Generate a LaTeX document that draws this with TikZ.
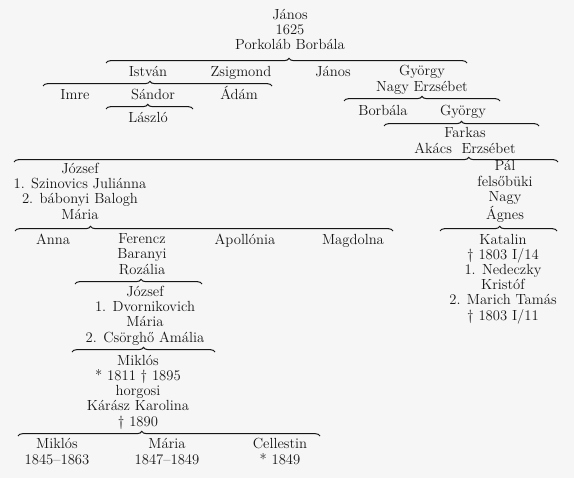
\documentclass[tikz,border=0pt]{standalone}
\usepackage{tikz}
\usetikzlibrary{decorations.pathreplacing}
\definecolor{paper}{RGB}{246,246,246}
\definecolor{ink}{RGB}{22,22,22}
\tikzset{
    person/.style={
        inner sep=0pt,align=center,anchor=base,text=ink,
        font=\fontsize{11}{11.4}\selectfont
    },
    kin/.style={
        draw=ink,line width=.75pt,decorate,
        decoration={brace,amplitude=3.5pt,aspect=#1}
    },
    kin/.default=0.5
}

\begin{document}
\begin{tikzpicture}[x=0.75pt,y=-0.75pt]

\fill[paper] (0,0) rectangle (574,478);
\useasboundingbox (0,0) rectangle (574,478);

% root (base = last line)
\node[person] (janos) at (290,50) {János\\1625\\Porkoláb Borbála};
\coordinate (b1l) at (106,63);
\coordinate (b1r) at (467,63);
\draw[kin=0.507] (b1l) -- (b1r);

% second generation
\node[person] (istvan) at (148,76) {István};
\node[person] (zsigmond) at (241,76) {Zsigmond};
\node[person] (janos2) at (333,76) {János};
\node[person] (gyorgy) at (422,91) {György\\Nagy Erzsébet};

% István's line
\coordinate (b2l) at (43,86);
\coordinate (b2r) at (272,86);
\draw[kin=0.467] (b2l) -- (b2r);
\node[person] (imre) at (75,99) {Imre};
\node[person] (sandor) at (153,99) {Sándor};
\node[person] (adam) at (239,99) {Ádám};
\coordinate (b3l) at (106,109);
\coordinate (b3r) at (193,109);
\draw[kin=0.48] (b3l) -- (b3r);
\node[person] (laszlo) at (148,122) {László};

% György's line
\coordinate (bgl) at (344,101);
\coordinate (bgr) at (500,101);
\draw[kin] (bgl) -- (bgr);
\node[person] (borbala) at (383,115) {Borbála};
\node[person] (gyorgy2) at (463,115) {György};
\coordinate (bg2l) at (384,126);
\coordinate (bg2r) at (539,126);
\draw[kin] (bg2l) -- (bg2r);
\node[person] (farkas) at (465,153) {Farkas\\Akács\ \ Erzsébet};
\coordinate (bfl) at (14,162);
\coordinate (bfr) at (558,162);
\draw[kin=0.836] (bfl) -- (bfr);

% Farkas' sons
\node[person] (jozsef) at (80,219)
{József\\1. Szinovics Juliánna\\2. bábonyi Balogh\\Mária};
\node[person] (pal) at (505,219) {Pál\\felsőbüki\\Nagy\\Ágnes};

\coordinate (bml) at (15,231);
\coordinate (bmr) at (393,231);
\draw[kin=0.2] (bml) -- (bmr);
\coordinate (bal) at (440,231);
\coordinate (bar) at (557,231);
\draw[kin=0.51] (bal) -- (bar);

\node[person] (anna) at (53,244) {Anna};
\node[person] (ferencz) at (142,274) {Ferencz\\Baranyi\\Rozália};
\node[person] (apollonia) at (245,244) {Apollónia};
\node[person] (magdolna) at (353,244) {Magdolna};
\node[person] (katalin) at (503,320)
{Katalin\\\textdagger\ 1803 I/14\\1. Nedeczky\\Kristóf\\2. Marich Tamás\\\textdagger\ 1803 I/11};

% Ferencz's line
\coordinate (brl) at (75,284);
\coordinate (brr) at (202,284);
\draw[kin=0.52] (brl) -- (brr);
\node[person] (jozsef2) at (145,342)
{József\\1. Dvornikovich\\Mária\\2. Csörghő Amália};
\coordinate (bjl) at (72,352);
\coordinate (bjr) at (215,352);
\draw[kin] (bjl) -- (bjr);
\node[person] (miklos) at (138,426)
{Miklós\\* 1811 \textdagger\ 1895\\horgosi\\Kárász Karolina\\\textdagger\ 1890};
\coordinate (bkl) at (18,436);
\coordinate (bkr) at (320,436);
\draw[kin=0.41] (bkl) -- (bkr);

% last generation
\node[person] (miklos2) at (57,464) {Miklós\\1845--1863};
\node[person] (maria) at (167,464) {Mária\\1847--1849};
\node[person] (cellestin) at (280,464) {Cellestin\\* 1849};

\end{tikzpicture}
\end{document}
